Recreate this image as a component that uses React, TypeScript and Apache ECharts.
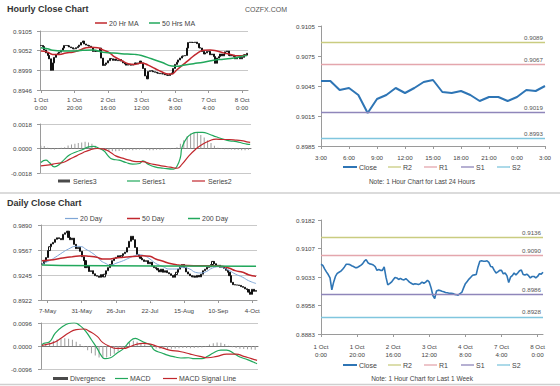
import React, { useEffect, useRef } from 'react';
import * as echarts from 'echarts';

const FONT = '"Liberation Sans", Arial, sans-serif';

// ---------- Hourly (last week, 1 Oct 0:00 .. 8 Oct 3:00) ----------
const hourlyClose = [
  0.9066, 0.9063, 0.9054, 0.9046, 0.9039, 0.9030, 0.8999, 0.9019, 0.9034, 0.9042,
  0.9045, 0.9048, 0.9053, 0.9059, 0.9066, 0.9066, 0.9065, 0.9062, 0.9060, 0.9057,
  0.9057, 0.9060, 0.9063, 0.9067, 0.9074, 0.9078, 0.9070, 0.9067, 0.9066, 0.9064,
  0.9060, 0.9050, 0.9052, 0.9050, 0.9050, 0.9059, 0.9032, 0.9012, 0.9015, 0.9019,
  0.9025, 0.9031, 0.9030, 0.9026, 0.9029, 0.9026, 0.9025, 0.9028, 0.9024, 0.9019,
  0.9016, 0.9013, 0.9015, 0.9014, 0.9013, 0.9015, 0.9019, 0.9016, 0.9019, 0.9024,
  0.9019, 0.9004, 0.8984, 0.8976, 0.8996, 0.8998, 0.8997, 0.8995, 0.8994, 0.8992,
  0.8991, 0.8990, 0.8990, 0.8989, 0.8987, 0.8986, 0.8985, 0.8989, 0.8992, 0.9004,
  0.9015, 0.9021, 0.9027, 0.9032, 0.9037, 0.9038, 0.9039, 0.9059, 0.9074, 0.9075,
  0.9074, 0.9074, 0.9075, 0.9071, 0.9060, 0.9059, 0.9050, 0.9043, 0.9046,
  0.9050, 0.9050, 0.9041, 0.9043, 0.9036, 0.9018, 0.9032, 0.9036, 0.9043, 0.9038,
  0.9043, 0.9049, 0.9051, 0.9039, 0.9038, 0.9040, 0.9036, 0.9030, 0.9034, 0.9034,
  0.9030, 0.9034, 0.9041, 0.9040, 0.9045,
];
const hourlyTickLabels = ['1 Oct\n0:00', '1 Oct\n20:00', '2 Oct\n16:00', '3 Oct\n12:00', '4 Oct\n8:00', '7 Oct\n4:00', '8 Oct\n0:00'];
const HOURLY_TICK_STEP = 20;
const hourlyYLabels = ['0.8946', '0.8999', '0.9052', '0.9105'];
const hourlyMacdYLabels = ['-0.0018', '0.0000', '0.0018'];

const hourlyMA20 = [
  [0, 0.9051], [4, 0.9048], [7, 0.9042], [11, 0.9042], [15, 0.9046], [19, 0.9048], [23, 0.9053],
  [27, 0.9060], [30, 0.9061], [34, 0.9060], [37, 0.9054], [41, 0.9046], [44, 0.9035], [48, 0.9026],
  [52, 0.9017], [56, 0.9015], [60, 0.9019], [64, 0.9013], [68, 0.9004], [72, 0.8995], [76, 0.8989],
  [78, 0.8989], [81, 0.9000], [85, 0.9015], [89, 0.9030], [93, 0.9044], [97, 0.9053], [101, 0.9054],
  [105, 0.9051], [109, 0.9046], [113, 0.9042], [117, 0.9038], [121, 0.9039], [123, 0.9040],
];
const hourlyMA50 = [
  [0, 0.9060], [4, 0.9057], [7, 0.9053], [13, 0.9051], [19, 0.9051], [25, 0.9053], [31, 0.9054],
  [37, 0.9048], [42, 0.9046], [48, 0.9044], [56, 0.9042], [60, 0.9039], [66, 0.9030], [72, 0.9021],
  [78, 0.9011], [82, 0.9010], [85, 0.9013], [91, 0.9017], [97, 0.9021], [103, 0.9026], [109, 0.9029],
  [115, 0.9032], [121, 0.9038], [123, 0.9039],
];
const hourlySeries1 = [
  [0, -0.00103], [3, -0.00086], [5, -0.00103], [8, -0.00135], [11, -0.00115], [14, -0.00078], [17, -0.00046],
  [21, -0.00024], [25, -0.00005], [28, 0.00012], [31, 0.00015], [34, 0.00002], [37, -0.00017], [40, -0.00061],
  [42, -0.00078], [46, -0.00086], [50, -0.00103], [54, -0.00115], [58, -0.0011], [60, -0.00091], [63, -0.00115],
  [67, -0.00135], [72, -0.00145], [78, -0.00152], [80, -0.0013], [82, -0.00066], [83, 0.0001], [86, 0.00081],
  [89, 0.0011], [92, 0.00118], [95, 0.00118], [99, 0.00105], [103, 0.00086], [107, 0.00069], [111, 0.00056],
  [115, 0.00051], [119, 0.00037], [121, 0.00032], [123, 0.0003],
];
const hourlySeries2 = [
  [0, -0.00127], [5, -0.0012], [9, -0.0011], [13, -0.00103], [17, -0.00078], [21, -0.00054], [25, -0.00029],
  [29, -0.0001], [33, 0], [37, -0.00005], [41, -0.00029], [44, -0.00054], [48, -0.00071], [52, -0.00086],
  [56, -0.00096], [60, -0.00096], [64, -0.0011], [68, -0.0012], [72, -0.0013], [76, -0.00137], [80, -0.00145],
  [83, -0.00115], [87, -0.00054], [91, -0.00005], [95, 0.00032], [99, 0.00056], [103, 0.00069], [107, 0.00066],
  [111, 0.00066], [115, 0.00061], [119, 0.00056], [121, 0.00049], [123, 0.00045],
];
const hourlySeries3 = [
  [0, 0.0002], [2, 0.00018], [4, 0.00005], [6, -0.00005], [8, -0.00007], [10, -0.00003], [12, 0.00005],
  [14, 0.0001], [16, 0.00022], [18, 0.0003], [20, 0.00035], [22, 0.0004], [24, 0.00045], [26, 0.0005],
  [28, 0.00045], [30, 0.00035], [32, 0.0002], [34, 0.00005], [36, -0.0001], [38, -0.00015], [40, -0.00018],
  [42, -0.0002], [44, -0.0002], [46, -0.00018], [48, -0.00015], [50, -0.00012], [52, -0.0001], [54, -0.00012],
  [56, -0.0001], [58, -0.00008], [60, -0.00006], [62, -0.0001], [64, -0.00012], [66, -0.00012], [68, -0.0001],
  [70, -0.0001], [72, -0.00008], [74, -0.00006], [76, -0.00005], [78, 0.00002], [80, 0.0001], [82, 0.00035],
  [84, 0.0006], [86, 0.0009], [88, 0.0011], [90, 0.0012], [92, 0.00115], [94, 0.001], [96, 0.0008],
  [98, 0.0006], [100, 0.0004], [102, 0.0002], [104, 0.00005], [106, -0.00003], [108, -0.00005], [110, -0.00006],
  [112, -0.00008], [114, -0.0001], [116, -0.0001], [118, -0.00012], [120, -0.00012], [122, -0.0001],
];

// ---------- Last 24 hours ----------
const last24Categories = [
  '3:00', '4:00', '5:00', '6:00', '7:00', '8:00', '9:00', '10:00', '11:00', '12:00', '13:00', '14:00', '15:00',
  '16:00', '17:00', '18:00', '19:00', '20:00', '21:00', '22:00', '23:00', '0:00', '1:00', '2:00', '3:00',
];
const last24Close = hourlyClose.slice(hourlyClose.length - last24Categories.length);
const last24YLabels = ['0.8985', '0.9015', '0.9045', '0.9075', '0.9105'];
const levelNames = ['R2', 'R1', 'S1', 'S2'];
const last24Levels = [0.9089, 0.9067, 0.9019, 0.8993];
const weekLevels = [0.9136, 0.9090, 0.8986, 0.8928];
const weekYLabels = ['0.8883', '0.8958', '0.9033', '0.9107', '0.9182'];

// ---------- Daily (2 May .. 8 Oct) ----------
const dailyClose = [
  0.9387, 0.9420, 0.9470, 0.9560, 0.9610, 0.9645, 0.9666, 0.9705, 0.9725, 0.9715,
  0.9700, 0.9770, 0.9790, 0.9810, 0.9730, 0.9700, 0.9720, 0.9640, 0.9585, 0.9600,
  0.9550, 0.9480, 0.9430, 0.9340, 0.9360, 0.9290, 0.9300, 0.9260, 0.9236, 0.9230,
  0.9215, 0.9250, 0.9220, 0.9255, 0.9300, 0.9340, 0.9380, 0.9430, 0.9460, 0.9473,
  0.9494, 0.9475, 0.9494, 0.9520, 0.9540, 0.9600, 0.9680, 0.9745, 0.9700, 0.9600,
  0.9510, 0.9480, 0.9460, 0.9440, 0.9420, 0.9430, 0.9390, 0.9410, 0.9360, 0.9340,
  0.9330, 0.9310, 0.9285, 0.9320, 0.9280, 0.9300, 0.9275, 0.9260, 0.9240, 0.9215,
  0.9250, 0.9280, 0.9320, 0.9350, 0.9380, 0.9340, 0.9285, 0.9258, 0.9236, 0.9220,
  0.9230, 0.9215, 0.9240, 0.9220, 0.9255, 0.9300, 0.9320, 0.9344, 0.9350, 0.9380,
  0.9420, 0.9390, 0.9365, 0.9370, 0.9345, 0.9352, 0.9330, 0.9305, 0.9280, 0.9236,
  0.9150, 0.9120, 0.9116, 0.9115, 0.9110, 0.9095, 0.9086, 0.9066, 0.9057, 0.9024,
  0.8995, 0.9060, 0.9034, 0.9045,
];
const dailyTickLabels = ['7-May', '31-May', '26-Jun', '22-Jul', '15-Aug', '10-Sep', '4-Oct'];
const DAILY_FIRST_TICK = 3;
const DAILY_TICK_STEP = 18;
const dailyYLabels = ['0.8922', '0.9245', '0.9567', '0.9890'];
const dailyMacdYLabels = ['-0.0096', '0.0000', '0.0096'];

const daily20 = [
  [0, 0.9387], [4, 0.9430], [7, 0.9473], [11, 0.9537], [14, 0.9580], [18, 0.9615], [21, 0.9610], [23, 0.9580],
  [26, 0.9537], [29, 0.9481], [31, 0.9430], [34, 0.9390], [36, 0.9368], [39, 0.9395], [43, 0.9430], [46, 0.9464],
  [49, 0.9494], [51, 0.9507], [54, 0.9494], [57, 0.9451], [60, 0.9395], [64, 0.9352], [67, 0.9322], [71, 0.9322],
  [74, 0.9344], [78, 0.9322], [81, 0.9279], [84, 0.9271], [87, 0.9292], [90, 0.9335], [94, 0.9352], [96, 0.9335],
  [99, 0.9301], [102, 0.9258], [106, 0.9215], [109, 0.9172], [113, 0.9135],
];
const daily50 = [
  [0, 0.9430], [6, 0.9443], [11, 0.9464], [16, 0.9481], [21, 0.9494], [25, 0.9486], [29, 0.9473], [32, 0.9451],
  [36, 0.9451], [39, 0.9464], [43, 0.9473], [46, 0.9481], [50, 0.9486], [53, 0.9494], [57, 0.9486], [60, 0.9451],
  [64, 0.9421], [67, 0.9395], [71, 0.9378], [74, 0.9369], [80, 0.9365], [85, 0.9365], [90, 0.9365], [95, 0.9357],
  [99, 0.9331], [102, 0.9301], [106, 0.9279], [109, 0.9249], [113, 0.9227],
];
const daily200 = [[0, 0.9375], [10, 0.9368], [60, 0.9362], [113, 0.9356]];
const dailyMacd = [
  [0, 0.0005], [1, 0.0011], [4, 0.0018], [7, 0.0054], [11, 0.0082], [14, 0.0094], [17, 0.0097], [20, 0.0085],
  [23, 0.0061], [26, 0.0026], [29, -0.001], [31, -0.0038], [33, -0.0053], [36, -0.0049], [39, -0.0032],
  [43, -0.001], [46, 0.0018], [49, 0.0032], [51, 0.0026], [54, 0.0014], [57, 0.0004], [59, -0.0017],
  [63, -0.0029], [66, -0.0038], [70, -0.0046], [73, -0.005], [77, -0.0049], [80, -0.0053], [84, -0.0053],
  [87, -0.0043], [90, -0.0029], [94, -0.0017], [97, -0.0017], [101, -0.0032], [104, -0.0046], [108, -0.0057],
  [111, -0.0067], [113, -0.0074],
];
const dailySignal = [
  [0, 0.0002], [1, 0.0004], [6, 0.0014], [10, 0.0032], [14, 0.0054], [18, 0.0068], [22, 0.0071], [25, 0.0061],
  [29, 0.004], [32, 0.0014], [36, -0.0003], [39, -0.001], [43, -0.001], [46, -0.0003], [50, 0.0008], [53, 0.0011],
  [57, 0.0008], [60, 0], [64, -0.001], [67, -0.0017], [73, -0.0024], [78, -0.0034], [83, -0.0043], [87, -0.0049],
  [92, -0.0043], [97, -0.0034], [102, -0.0034], [106, -0.0043], [110, -0.0053], [113, -0.006],
];
const dailyDivergence = [
  [0, 0.0006], [2, 0.001], [4, 0.0015], [6, 0.0022], [8, 0.0027], [10, 0.003], [12, 0.0032], [14, 0.003],
  [16, 0.0026], [18, 0.0018], [20, 0.0008], [22, -0.0005], [24, -0.0018], [26, -0.003], [28, -0.004], [30, -0.0048],
  [32, -0.005], [34, -0.0048], [36, -0.0042], [38, -0.0032], [40, -0.0022], [42, -0.0012], [44, 0.0002], [46, 0.0015],
  [48, 0.0022], [50, 0.0018], [52, 0.0012], [54, 0.0006], [56, 0], [58, -0.0006], [60, -0.001], [62, -0.0012],
  [64, -0.0012], [66, -0.0012], [68, -0.0011], [70, -0.001], [72, -0.0009], [74, -0.0008], [76, -0.0008],
  [78, -0.0009], [80, -0.0008], [82, -0.0007], [84, -0.0006], [86, -0.0002], [88, 0.0006], [90, 0.0012],
  [92, 0.0015], [94, 0.0014], [96, 0.0008], [98, 0.0001], [100, -0.0005], [102, -0.0008], [104, -0.0011],
  [106, -0.0013], [108, -0.0014], [110, -0.0015], [112, -0.0016],
];

// ---------- styles ----------
const C_RED = '#c1272d';
const C_GREEN = '#22a85c';
const C_BLUE = '#2e75b5';
const C_LIGHTBLUE = '#7fa6d6';
const LEVEL_COLORS = ['#c9cc80', '#e4a6ad', '#8f86ba', '#80c6de'];
const AXIS_C = '#9a9a9a';
const LABEL_C = '#444';
const GRID_C = '#c9c9c9';

const toCandles = (closes: number[]) =>
  closes.map((c, i) => {
    const o = i === 0 ? c : closes[i - 1];
    return [o, c, Math.min(o, c), Math.max(o, c)];
  });

function yAxisFor(gridIndex: number, labels: string[], split: boolean, margin: number) {
  const min = parseFloat(labels[0]);
  const max = parseFloat(labels[labels.length - 1]);
  const interval = (max - min) / (labels.length - 1);
  return {
    type: 'value',
    gridIndex,
    min,
    max,
    interval,
    axisLabel: {
      formatter: (v: number) => labels[Math.round((v - min) / interval)] ?? '',
      fontSize: 6.2,
      color: LABEL_C,
      fontFamily: FONT,
      margin,
    },
    axisLine: { show: true, lineStyle: { color: AXIS_C, width: 1 } },
    axisTick: { show: true, length: 3, lineStyle: { color: AXIS_C } },
    splitLine: { show: split, lineStyle: { color: GRID_C, width: 1 } },
  };
}

function catAxis(gridIndex: number, data: string[], boundaryGap: boolean, showFn: ((i: number) => boolean) | null, fmt: ((i: number) => string) | null, margin: number, onZero = false) {
  return {
    type: 'category',
    gridIndex,
    data,
    boundaryGap,
    axisLine: { show: true, onZero, lineStyle: { color: onZero ? '#777' : AXIS_C, width: 1 } },
    axisTick: showFn
      ? { show: true, alignWithLabel: true, interval: (i: number) => showFn(i), length: 3, lineStyle: { color: AXIS_C } }
      : { show: false },
    axisLabel: showFn
      ? {
          show: true,
          interval: (i: number) => showFn(i),
          formatter: (_v: string, i: number) => (fmt ? fmt(i) : _v),
          fontSize: 6.2,
          lineHeight: 8,
          color: LABEL_C,
          fontFamily: FONT,
          margin,
        }
      : { show: false },
    splitLine: { show: false },
  };
}

const hourlyCats = hourlyClose.map((_, i) => String(i));
const dailyCats = dailyClose.map((_, i) => String(i));
const hourlyShow = (i: number) => i % HOURLY_TICK_STEP === 0;
const hourlyFmt = (i: number) => hourlyTickLabels[i / HOURLY_TICK_STEP] ?? '';
const dailyShow = (i: number) => i >= DAILY_FIRST_TICK && (i - DAILY_FIRST_TICK) % DAILY_TICK_STEP === 0;
const dailyFmt = (i: number) => dailyTickLabels[(i - DAILY_FIRST_TICK) / DAILY_TICK_STEP] ?? '';

function levelMarkLine(levels: number[]) {
  return {
    symbol: ['none', 'none'],
    silent: true,
    animation: false,
    precision: 6,
    data: levels.map((v, k) => ({
      yAxis: v,
      lineStyle: { color: LEVEL_COLORS[k], width: 1.3, type: 'solid' },
      label: {
        show: true,
        position: 'insideEndTop',
        formatter: v.toFixed(4),
        color: '#555',
        fontSize: 6.2,
        fontFamily: FONT,
        distance: [2, 2],
      },
    })),
  };
}

const lineSeries = (name: string, x: number, y: number, data: any, color: string, width: number, smooth = true) => ({
  type: 'line',
  name,
  xAxisIndex: x,
  yAxisIndex: y,
  data,
  smooth,
  showSymbol: false,
  symbol: 'none',
  lineStyle: { color, width },
  itemStyle: { color },
  z: 3,
});

const candleSeries = (name: string, x: number, data: number[][], barWidth: number) => ({
  type: 'candlestick',
  name,
  xAxisIndex: x,
  yAxisIndex: x,
  data,
  barWidth,
  itemStyle: { color: '#ffffff', color0: '#111111', borderColor: '#111111', borderColor0: '#111111', borderWidth: 1 },
  z: 2,
});

const barSeries = (name: string, x: number, data: any) => ({
  type: 'bar',
  name,
  xAxisIndex: x,
  yAxisIndex: x,
  data,
  barWidth: 1,
  itemStyle: { color: '#9c9c9c' },
  z: 1,
});

// ---------- graphic helpers ----------
const txt = (text: string, x: number, y: number, size: number, opts: any = {}) => ({
  type: 'text',
  x,
  y,
  silent: true,
  style: {
    text,
    fill: opts.fill ?? '#444',
    font: `${opts.bold ? 'bold ' : ''}${size}px ${FONT}`,
    textAlign: opts.align ?? 'left',
    align: opts.align ?? 'left',
    textVerticalAlign: 'middle',
    verticalAlign: 'middle',
  },
});
const seg = (x1: number, x2: number, y: number, color: string, w: number) => ({
  type: 'line',
  silent: true,
  shape: { x1, y1: y, x2, y2: y },
  style: { stroke: color, lineWidth: w },
});
const box = (x: number, y: number, w: number, h: number, color: string) => ({
  type: 'rect',
  silent: true,
  shape: { x, y, width: w, height: h },
  style: { fill: color },
});

const LEG_FS = 7;
const levelLegend = (y: number) => [
  seg(343, 357, y, C_BLUE, 2), txt('Close', 359, y, LEG_FS),
  seg(388, 401, y, LEVEL_COLORS[0], 1.3), txt(levelNames[0], 403, y, LEG_FS),
  seg(424, 437, y, LEVEL_COLORS[1], 1.3), txt(levelNames[1], 439, y, LEG_FS),
  seg(461, 474, y, LEVEL_COLORS[2], 1.3), txt(levelNames[2], 476, y, LEG_FS),
  seg(497, 510, y, LEVEL_COLORS[3], 1.3), txt(levelNames[3], 512, y, LEG_FS),
];

const graphics = [
  seg(0, 560, 193, '#cfcfcf', 1.6),
  seg(0, 560, 384.5, '#cfcfcf', 1.6),
  txt('Hourly Close Chart', 7, 9, 9, { bold: true, fill: '#333' }),
  txt('COZFX.COM', 245, 9.5, 7, { fill: '#555' }),
  txt('Daily Close Chart', 7, 203, 9, { bold: true, fill: '#333' }),
  // hourly legend
  seg(95, 107, 23, C_RED, 1.5), txt('20 Hr MA', 109, 23, LEG_FS),
  seg(149, 160, 23, C_GREEN, 1.5), txt('50 Hrs MA', 162, 23, LEG_FS),
  // hourly macd legend
  box(58, 179.5, 12, 3, '#4a4a4a'), txt('Series3', 73, 181, LEG_FS),
  seg(127, 140, 181, C_GREEN, 1.2), txt('Series1', 142, 181, LEG_FS),
  seg(192, 205, 181, C_RED, 1.2), txt('Series2', 208, 181, LEG_FS),
  // last 24h legend
  ...levelLegend(167),
  txt('Note: 1 Hour Chart for Last 24 Hours', 422, 181, 6.5, { align: 'center' }),
  // daily legend
  seg(65, 78, 218.5, C_LIGHTBLUE, 1.2), txt('20 Day', 80, 218.5, LEG_FS),
  seg(127, 140, 218.5, C_RED, 1.5), txt('50 Day', 142, 218.5, LEG_FS),
  seg(188, 200, 218.5, C_GREEN, 1.5), txt('200 Day', 202, 218.5, LEG_FS),
  // daily macd legend
  box(53, 377, 15, 3, '#4a4a4a'), txt('Divergence', 70, 378.5, LEG_FS),
  seg(115, 128, 378.5, C_GREEN, 1.2), txt('MACD', 130, 378.5, LEG_FS),
  seg(163, 177, 378.5, C_RED, 1.2), txt('MACD Signal Line', 179, 378.5, LEG_FS),
  // week legend
  ...levelLegend(365),
  txt('Note: 1 Hour Chart for Last 1 Week', 422, 378.5, 6.5, { align: 'center' }),
];

const option: any = {
  animation: false,
  backgroundColor: '#ffffff',
  textStyle: { fontFamily: FONT },
  grid: [
    { left: 40, top: 31, width: 208, height: 59 },
    { left: 40, top: 124, width: 211, height: 49 },
    { left: 321, top: 26, width: 224, height: 120 },
    { left: 41, top: 225, width: 216, height: 75 },
    { left: 41, top: 323, width: 217, height: 46 },
    { left: 321, top: 220, width: 222, height: 114 },
  ],
  xAxis: [
    catAxis(0, hourlyCats, true, hourlyShow, hourlyFmt, 5),
    catAxis(1, hourlyCats, true, null, null, 0, true),
    catAxis(2, last24Categories, false, (i) => i % 3 === 0, null, 7),
    catAxis(3, dailyCats, true, dailyShow, dailyFmt, 6),
    catAxis(4, dailyCats, true, null, null, 0, true),
    catAxis(5, hourlyCats, false, hourlyShow, hourlyFmt, 8),
  ],
  yAxis: [
    yAxisFor(0, hourlyYLabels, true, 8),
    yAxisFor(1, hourlyMacdYLabels, true, 8),
    yAxisFor(2, last24YLabels, false, 6),
    yAxisFor(3, dailyYLabels, true, 9),
    yAxisFor(4, dailyMacdYLabels, true, 9),
    yAxisFor(5, weekYLabels, false, 6),
  ],
  series: [
    candleSeries('Hourly', 0, toCandles(hourlyClose), 1.5),
    lineSeries('20 Hr MA', 0, 0, hourlyMA20, C_RED, 1.5),
    lineSeries('50 Hrs MA', 0, 0, hourlyMA50, C_GREEN, 1.5),

    barSeries('Series3', 1, hourlySeries3),
    lineSeries('Series1', 1, 1, hourlySeries1, C_GREEN, 1.2),
    lineSeries('Series2', 1, 1, hourlySeries2, C_RED, 1.2),

    { ...lineSeries('Close', 2, 2, last24Close, C_BLUE, 2, false), markLine: levelMarkLine(last24Levels) },

    candleSeries('Daily', 3, toCandles(dailyClose), 1.6),
    lineSeries('20 Day', 3, 3, daily20, C_LIGHTBLUE, 1),
    lineSeries('50 Day', 3, 3, daily50, C_RED, 1.5),
    lineSeries('200 Day', 3, 3, daily200, C_GREEN, 1.5),

    barSeries('Divergence', 4, dailyDivergence),
    lineSeries('MACD', 4, 4, dailyMacd, C_GREEN, 1.2),
    lineSeries('MACD Signal Line', 4, 4, dailySignal, C_RED, 1.2),

    { ...lineSeries('Close', 5, 5, hourlyClose, C_BLUE, 1.6, false), markLine: levelMarkLine(weekLevels) },
  ],
  graphic: { elements: graphics },
};

export default function App() {
  const ref = useRef<HTMLDivElement>(null);
  useEffect(() => {
    if (!ref.current) return;
    const chart = echarts.init(ref.current, undefined, { renderer: 'svg' });
    chart.setOption(option);
    return () => chart.dispose();
  }, []);
  return (
    <div
      ref={ref}
      style={{ position: 'absolute', left: 0, top: 0, width: 560, height: 386, background: '#fff' }}
    />
  );
}
